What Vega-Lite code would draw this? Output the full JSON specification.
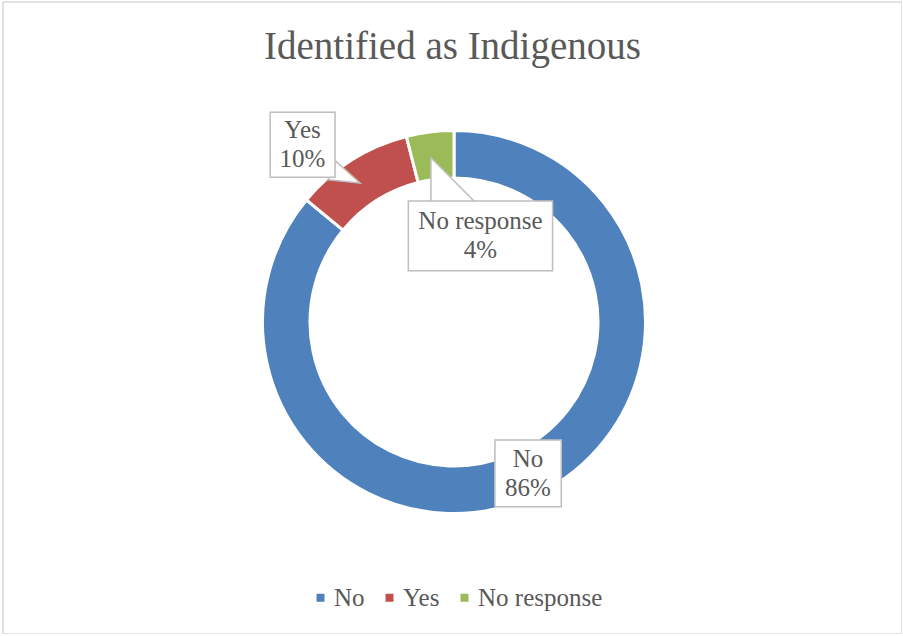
{
  "$schema": "https://vega.github.io/schema/vega-lite/v6.json",
  "width": 899,
  "height": 632,
  "autosize": "none",
  "padding": {"left": 3, "top": 2, "right": 0, "bottom": 0},
  "background": "white",
  "view": {"stroke": "#D9D9D9", "strokeWidth": 1.5},
  "config": {
    "view": {"stroke": "#D9D9D9", "strokeWidth": 1.5},
    "style": {"view": {"stroke": "#D9D9D9", "strokeWidth": 1.5}},
    "font": "Liberation Serif"
  },
  "title": {
    "text": "Identified as Indigenous",
    "font": "Liberation Serif",
    "fontSize": 39,
    "fontWeight": "normal",
    "color": "#595959",
    "anchor": "middle",
    "baseline": "alphabetic",
    "offset": -96
  },
  "data": {
    "values": [
      {"category": "No", "value": 86, "rank": 1, "label": ["No", "86%"]},
      {"category": "Yes", "value": 10, "rank": 2, "label": ["Yes", "10%"]},
      {"category": "No response", "value": 4, "rank": 3, "label": ["No response", "4%"]}
    ]
  },
  "encoding": {
    "theta": {"field": "value", "type": "quantitative", "stack": true, "scale": {"domain": [0, 100]}},
    "order": {"field": "rank", "type": "quantitative"}
  },
  "layer": [
    {
      "mark": {"type": "arc", "outerRadius": 191.5, "innerRadius": 144, "stroke": "white", "strokeWidth": 3, "xOffset": 1.5, "yOffset": 4},
      "encoding": {
        "color": {
          "field": "category",
          "type": "nominal",
          "scale": {"domain": ["No", "Yes", "No response"], "range": ["#4F81BD", "#C0504D", "#9BBB59"]},
          "legend": {
            "orient": "none",
            "legendX": 305,
            "legendY": 583,
            "direction": "horizontal",
            "title": null,
            "symbolType": "square",
            "symbolSize": 64,
            "symbolStrokeWidth": 0,
            "labelFont": "Liberation Serif",
            "labelFontSize": 25,
            "labelColor": "#595959",
            "labelOffset": 1,
            "columnPadding": 12,
            "padding": 0
          }
        }
      }
    },
    {
      "mark": {"type": "text", "font": "DejaVu Sans", "fontSize": 58, "fill": "white", "stroke": "#BFBFBF", "strokeWidth": 1.5, "baseline": "middle", "align": "center", "radius": 162, "dx": 20.8, "dy": 20.3},
      "encoding": {"text": {"condition": {"test": "datum.category === 'No response'", "value": "◣"}, "value": ""}}
    },
    {
      "mark": {"type": "text", "font": "DejaVu Sans", "fontSize": 40, "fill": "white", "stroke": "#BFBFBF", "strokeWidth": 1.5, "baseline": "middle", "align": "right", "angle": 24, "radius": 164, "dx": -2.8, "dy": 3.4},
      "encoding": {"text": {"condition": {"test": "datum.category === 'Yes'", "value": "►"}, "value": ""}}
    },
    {
      "mark": {"type": "text", "font": "DejaVu Sans", "fontSize": 87, "fill": "white", "stroke": "#BFBFBF", "strokeWidth": 1.5, "baseline": "middle", "align": "center", "radius": 168, "dx": 4, "dy": -0.1},
      "encoding": {"text": {"condition": {"test": "datum.category === 'No'", "value": "■"}, "value": ""}}
    },
    {
      "mark": {"type": "text", "font": "DejaVu Sans", "fontSize": 85, "fill": "white", "stroke": "#BFBFBF", "strokeWidth": 1.5, "baseline": "middle", "align": "center", "radius": 164, "dx": -62.1, "dy": -39},
      "encoding": {"text": {"condition": {"test": "datum.category === 'Yes'", "value": "■"}, "value": ""}}
    },
    {
      "mark": {"type": "text", "font": "DejaVu Sans", "fontSize": 189, "fill": "white", "stroke": "#BFBFBF", "strokeWidth": 1.5, "baseline": "middle", "align": "center", "radius": 162, "dx": 48.3, "dy": 71.2},
      "encoding": {"text": {"condition": {"test": "datum.category === 'No response'", "value": "▬"}, "value": ""}}
    },
    {
      "mark": {"type": "text", "font": "Liberation Serif", "fontSize": 25, "lineHeight": 29, "color": "#595959", "baseline": "middle", "align": "center", "radius": 168, "dx": 4, "dy": -11},
      "encoding": {"text": {"condition": {"test": "datum.category === 'No'", "field": "label"}, "value": ""}}
    },
    {
      "mark": {"type": "text", "font": "Liberation Serif", "fontSize": 25, "lineHeight": 29, "color": "#595959", "baseline": "middle", "align": "center", "radius": 164, "dx": -62.1, "dy": -50},
      "encoding": {"text": {"condition": {"test": "datum.category === 'Yes'", "field": "label"}, "value": ""}}
    },
    {
      "mark": {"type": "text", "font": "Liberation Serif", "fontSize": 25, "lineHeight": 29, "color": "#595959", "baseline": "middle", "align": "center", "radius": 162, "dx": 48.3, "dy": 64.2},
      "encoding": {"text": {"condition": {"test": "datum.category === 'No response'", "field": "label"}, "value": ""}}
    }
  ]
}
